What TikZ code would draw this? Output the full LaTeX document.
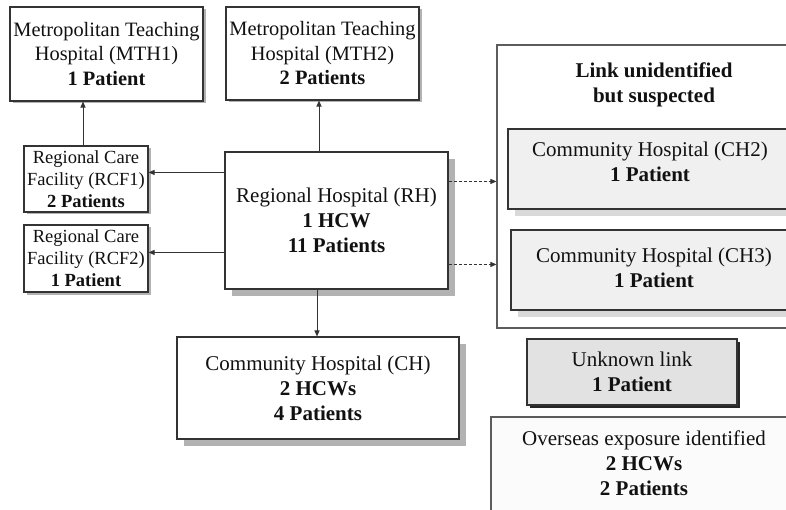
\documentclass[tikz,border=0pt]{standalone}
\usepackage{fontspec}
\setmainfont{Liberation Serif}
\usetikzlibrary{arrows.meta,shadows}
\definecolor{edge}{HTML}{333333}
\definecolor{ink}{HTML}{111111}
\definecolor{chfill}{HTML}{F0F0F0}
\definecolor{unkfill}{HTML}{E2E2E2}
\definecolor{ovsfill}{HTML}{FBFBFB}
\begin{document}
\begin{tikzpicture}[x=1pt,y=-1pt,
  box/.style={draw=edge, line width=1.1pt, fill=white, inner sep=0pt, align=center,
    text=ink, font=\fontsize{21}{25}\selectfont},
  mthbox/.style={box, font=\fontsize{20.4}{24.5}\selectfont},
  smallbox/.style={box, font=\fontsize{18.5}{22}\selectfont},
  txt/.style={inner sep=0pt, align=center, text=ink, font=\fontsize{21}{25}\selectfont},
  bigshadow/.style={drop shadow={shadow xshift=7pt, shadow yshift=-7pt, fill=black!30, opacity=1}},
  thinshadow/.style={drop shadow={shadow xshift=2.5pt, shadow yshift=-2.5pt, fill=black!30, opacity=1}},
  lightshadow/.style={drop shadow={shadow xshift=7pt, shadow yshift=-7pt, fill=black!15, opacity=1}},
  darkshadow/.style={drop shadow={shadow xshift=3pt, shadow yshift=-3pt, fill=black!85, opacity=1}},
  arr/.style={draw=edge, line width=1pt, -{Triangle[length=6pt,width=5pt]}},
  darr/.style={arr, dashed, dash pattern=on 3pt off 2pt}
]
\useasboundingbox (0,0) rectangle (786,510);
\clip (0,0) rectangle (786,510);

% left / top boxes
\node[mthbox, thinshadow, minimum width=193pt, minimum height=94pt] (mth1) at (106.5,54)
  {Metropolitan Teaching\\Hospital (MTH1)\\\textbf{1 Patient}};
\node[mthbox, thinshadow, minimum width=193pt, minimum height=93pt] (mth2) at (322.5,53.5)
  {Metropolitan Teaching\\Hospital (MTH2)\\\textbf{2 Patients}};
\node[smallbox, thinshadow, minimum width=124pt, minimum height=66pt] (rcf1) at (86,179)
  {Regional Care\\Facility (RCF1)\\\textbf{2 Patients}};
\node[smallbox, thinshadow, minimum width=124pt, minimum height=67pt] (rcf2) at (86,258.5)
  {Regional Care\\Facility (RCF2)\\\textbf{1 Patient}};
\node[box, bigshadow, minimum width=223pt, minimum height=137pt] (rh) at (336.5,220.5)
  {Regional Hospital (RH)\\\textbf{1 HCW}\\\textbf{11 Patients}};
\node[box, bigshadow, minimum width=282pt, minimum height=102pt] (ch) at (318,388)
  {Community Hospital (CH)\\\textbf{2 HCWs}\\\textbf{4 Patients}};

% right group
\node[draw=edge!80, line width=1.1pt, fill=white, minimum width=314pt, minimum height=283pt, inner sep=0pt] (grp) at (654,186.5) {};
\node[txt] (grptitle) at (654,85) {\textbf{Link unidentified}\\\textbf{but suspected}};
\node[draw=edge, line width=1.1pt, fill=chfill, lightshadow, minimum width=284pt, minimum height=80pt, inner sep=0pt] (ch2) at (650,169) {};
\node[txt] (ch2t) at (650,162) {Community Hospital (CH2)\\\textbf{1 Patient}};
\node[draw=edge, line width=1.1pt, fill=chfill, lightshadow, minimum width=284pt, minimum height=80pt, inner sep=0pt] (ch3) at (653,270) {};
\node[txt] (ch3t) at (654,268) {Community Hospital (CH3)\\\textbf{1 Patient}};

\node[box, fill=unkfill, darkshadow, minimum width=210pt, minimum height=66pt] (unk) at (632,372)
  {Unknown link\\\textbf{1 Patient}};
\node[draw=edge!80, line width=1.1pt, fill=ovsfill, minimum width=306pt, minimum height=106pt, inner sep=0pt] (ovs) at (644,470) {};
\node[txt] (ovst) at (644,463) {Overseas exposure identified\\\textbf{2 HCWs}\\\textbf{2 Patients}};

% connectors
\draw[arr] ([xshift=-3pt]rcf1.north) -- ([xshift=-3pt]rcf1.north |- mth1.south);
\draw[arr] ([xshift=-17.5pt]rh.north) -- ([xshift=-17.5pt]rh.north |- mth2.south);
\draw[arr] ([yshift=-21pt]rh.north west) -- ([yshift=-21pt]rh.north west -| rcf1.east);
\draw[arr] ([yshift=-101pt]rh.north west) -- ([yshift=-101pt]rh.north west -| rcf2.east);
\draw[arr] ([xshift=-19.5pt]rh.south) -- ([xshift=-19.5pt]rh.south |- ch.north);
\draw[darr] ([yshift=-30pt]rh.north east) -- ([yshift=-30pt]rh.north east -| grp.west);
\draw[darr] ([yshift=-113pt]rh.north east) -- ([yshift=-113pt]rh.north east -| grp.west);
\end{tikzpicture}
\end{document}
